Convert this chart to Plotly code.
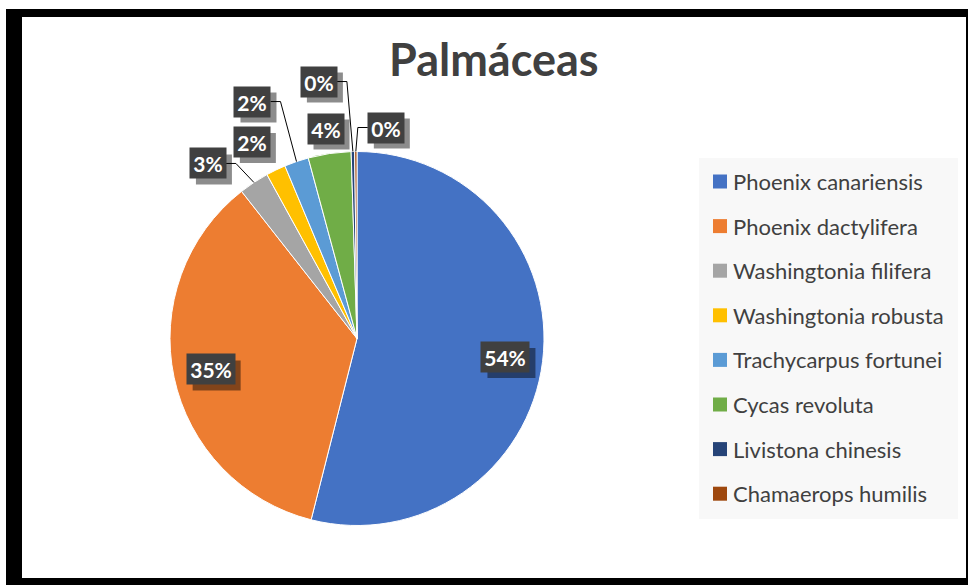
import math
import plotly.graph_objects as go

# ---- data ----
species = ["Phoenix canariensis", "Phoenix dactylifera", "Washingtonia filifera",
           "Washingtonia robusta", "Trachycarpus fortunei", "Cycas revoluta",
           "Livistona chinesis", "Chamaerops humilis"]
counts = [540, 355, 26, 17, 21, 37, 3, 2]
colors = ["#4472C4", "#ED7D31", "#A5A5A5", "#FFC000", "#5B9BD5", "#70AD47", "#264478", "#9E480E"]
title_text = "Palmáceas"

# ---- layout constants (pixels) ----
W, H = 968, 585
CX, CY, R = 357, 338.5, 187
FONT = "Lato"
TXT = "#404040"

def px(x):
    return x / W

def py(y):
    return 1 - y / H

# label placement: inside labels at radius fraction; outside labels as pixel offset from slice edge
label_mode = ["in", "in", "out", "out", "out", "out", "out", "out"]
label_offset = [None, None, (-46, -19), (-24, -28), (-44, -60), (-4, -25), (-34, -70), (30, -24)]
leader = [False, False, True, False, True, False, True, True]

fig = go.Figure()
fig.add_trace(go.Pie(
    labels=species, values=counts, sort=False, direction="clockwise", rotation=0,
    marker=dict(colors=colors, line=dict(color="white", width=1)),
    textinfo="none", hoverinfo="skip", showlegend=False,
    domain=dict(x=[px(CX - R), px(CX + R)], y=[py(CY + R), py(CY - R)]),
))

total = sum(counts)
shapes = []
annotations = []

# frame
frame = [(6, 9, 22, 600), (6, 9, 980, 17), (966, 9, 980, 600), (6, 578, 980, 600)]
for x0, y0, x1, y1 in frame:
    shapes.append(dict(type="rect", xref="paper", yref="paper", x0=px(x0), x1=px(x1),
                       y0=py(y1), y1=py(y0), fillcolor="black", line=dict(width=0), layer="above"))

cum = 0
BH = 30
for i, v in enumerate(counts):
    a0 = cum / total * 360
    cum += v
    a1 = cum / total * 360
    mid = math.radians((a0 + a1) / 2)
    pct = f"{round(v / total * 100)}%"
    if label_mode[i] == "in":
        lx = CX + 0.8 * R * math.sin(mid)
        ly = CY - 0.8 * R * math.cos(mid)
    else:
        ex = CX + R * math.sin(mid)
        ey = CY - R * math.cos(mid)
        lx = ex + label_offset[i][0]
        ly = ey + label_offset[i][1]
    bw = 48 if len(pct) == 3 else 36
    # shadow box
    shapes.append(dict(type="rect", xref="paper", yref="paper",
                       x0=px(lx - bw / 2 + 6), x1=px(lx + bw / 2 + 6),
                       y0=py(ly + BH / 2 + 6), y1=py(ly - BH / 2 + 6),
                       fillcolor="rgba(0,0,0,0.45)", line=dict(width=0), layer="above"))
    annotations.append(dict(x=px(lx), y=py(ly), xref="paper", yref="paper", text=pct, showarrow=False,
                            font=dict(family=FONT, size=21, color="white", weight="bold"),
                            bgcolor="#404040", width=bw - 4, height=BH - 4, borderpad=2,
                            xanchor="center", yanchor="middle"))
    if leader[i]:
        ex = CX + R * math.sin(mid)
        ey = CY - R * math.cos(mid)
        half = bw / 2
        if ex > lx:
            sx = lx + half
            kx = sx + 10
        else:
            sx = lx - half
            kx = max(ex + 2, sx - 12)
        path = f"M {px(sx)} {py(ly)} L {px(kx)} {py(ly)} L {px(ex)} {py(ey)}"
        shapes.append(dict(type="path", xref="paper", yref="paper", path=path,
                           line=dict(color="black", width=1)))

# legend box
shapes.append(dict(type="rect", xref="paper", yref="paper", x0=px(699), x1=px(958),
                   y0=py(519), y1=py(158), fillcolor="#f8f8f8", line=dict(width=0), layer="below"))
for i, name in enumerate(species):
    yc = 181.5 + i * 44.6
    shapes.append(dict(type="rect", xref="paper", yref="paper", x0=px(713), x1=px(727),
                       y0=py(yc + 7), y1=py(yc - 7), fillcolor=colors[i], line=dict(width=0)))
    annotations.append(dict(x=px(731), y=py(yc), xref="paper", yref="paper", text=name,
                            showarrow=False, xanchor="left", yanchor="middle",
                            font=dict(family=FONT, size=22, color=TXT)))

annotations.append(dict(x=px(494), y=py(59), xref="paper", yref="paper", text=title_text,
                        showarrow=False, xanchor="center", yanchor="middle",
                        font=dict(family=FONT, size=45, color=TXT, weight="bold")))

fig.update_layout(width=W, height=H, autosize=False, margin=dict(l=0, r=0, t=0, b=0),
                  paper_bgcolor="white", plot_bgcolor="white",
                  shapes=shapes, annotations=annotations)
fig.write_html("out.html", config={"displayModeBar": False},
               post_script="document.body.style.margin='0';document.body.style.padding='0';")
